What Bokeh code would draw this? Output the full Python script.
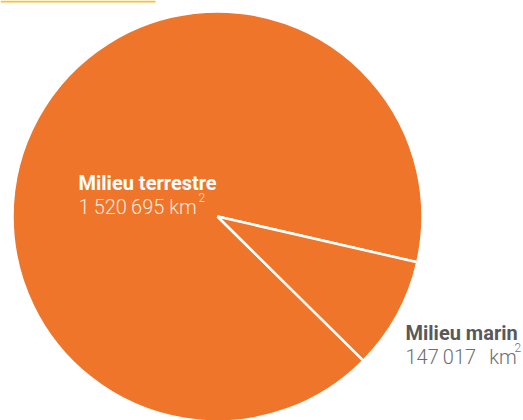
import math
from bokeh.plotting import figure
from bokeh.models import Range1d, ColumnDataSource
from bokeh.core.properties import value
from bokeh.embed import file_html
from bokeh.resources import INLINE

categories = ["Milieu terrestre", "Milieu marin"]
areas = [1520695, 147017]
value_labels = ["1\u2009520\u2009695 km", "147\u2009017\u2009\u2009 km"]
unit_sup = ["2", "2"]
colors = ["#EE7529", "#EE7529"]

W, H = 523, 420
p = figure(width=W, height=H, output_backend="svg", toolbar_location=None,
           x_range=Range1d(0, W), y_range=Range1d(0, H),
           x_axis_location=None, y_axis_location=None, min_border=0)
p.grid.visible = False
p.outline_line_color = None
p.background_fill_color = "white"

cx, cy, r = 217, H - 216, 205
total = sum(areas)
a0 = math.radians(-12.9)
frac_m = areas[1] / total
marine_start = a0 - 2 * math.pi * frac_m
starts = [a0, marine_start]
ends = [marine_start + 2 * math.pi, a0]
src = ColumnDataSource(dict(start=starts, end=ends, color=colors, cat=categories))
p.wedge(x=cx, y=cy, radius=r, start_angle="start", end_angle="end",
        fill_color="color", line_color="white", line_width=2.5, source=src)

p.quad(left=0, right=155, bottom=H - 2, top=H, fill_color="#F9C12E", line_color=None)

bold = value("Roboto")
light = value("Roboto Light")
p.text(x=[78], y=[H - 182], text=[categories[0]], text_font=bold, text_font_style="bold",
       text_font_size="20px", text_color="white", text_baseline="alphabetic")
p.text(x=[78], y=[H - 206], text=[value_labels[0]], text_font=light,
       text_font_size="20px", text_color="#FDEBDD", text_baseline="alphabetic")
p.text(x=[198], y=[H - 197], text=[unit_sup[0]], text_font=light,
       text_font_size="12px", text_color="#FDEBDD", text_baseline="alphabetic")
p.text(x=[405], y=[H - 332], text=[categories[1]], text_font=bold, text_font_style="bold",
       text_font_size="20px", text_color="#58595B", text_baseline="alphabetic")
p.text(x=[405], y=[H - 356], text=[value_labels[1]], text_font=light,
       text_font_size="20px", text_color="#6D6E70", text_baseline="alphabetic")
p.text(x=[514], y=[H - 347], text=[unit_sup[1]], text_font=light,
       text_font_size="12px", text_color="#6D6E70", text_baseline="alphabetic")

open("out.html", "w").write(file_html(p, INLINE))
